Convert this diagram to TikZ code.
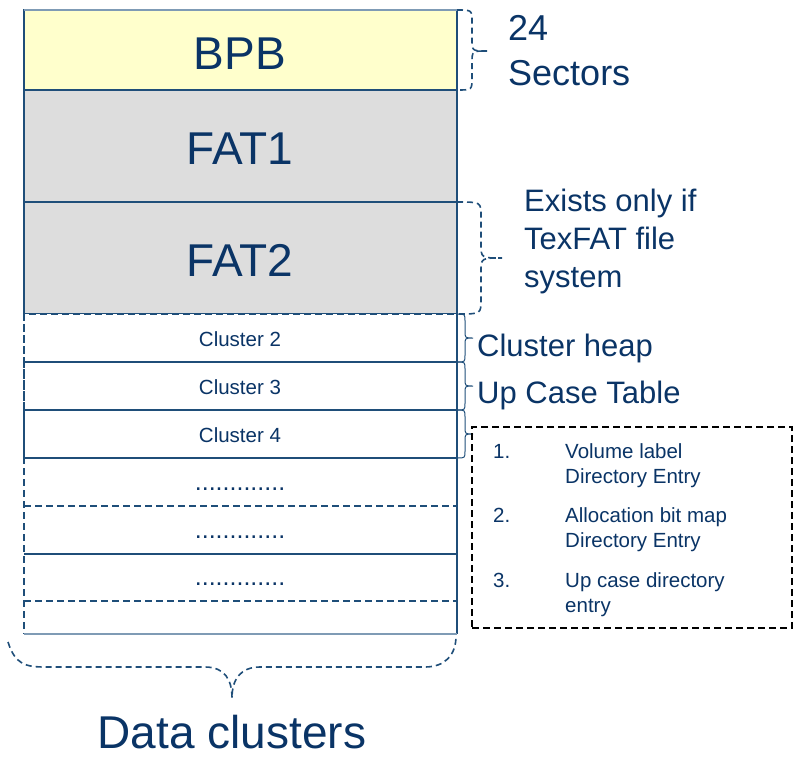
\documentclass[tikz,border=0pt]{standalone}
\usepackage{fontspec}
\setmainfont{Liberation Sans}
\definecolor{txt}{HTML}{0A3466}
\definecolor{ln}{HTML}{1F4E79}
\definecolor{lnlight}{HTML}{7F9BB5}
\definecolor{bpbfill}{HTML}{FFFFCC}
\definecolor{fatfill}{HTML}{DDDDDD}
\newcommand\sidebrace[8]{%
  \draw[#8] (#1,#4) .. controls (#2,#4) .. (#2,#4+#7) -- (#2,#5-#7)
    .. controls (#2,#5) .. (#3,#5) .. controls (#2,#5) .. (#2,#5+#7)
    -- (#2,#6-#7) .. controls (#2,#6) .. (#1,#6);}
\begin{document}
\begin{tikzpicture}[x=1pt,y=-1pt,
  box/.style={draw=ln, line width=1.5pt, minimum width=433pt, inner sep=0pt, outer sep=0pt, anchor=north west},
  cbox/.style={box, dashed, dash pattern=on 7pt off 4pt, line width=2.2pt, minimum height=48pt},
  bigtxt/.style={text=txt, font=\fontsize{46}{52}\selectfont, inner sep=0pt, anchor=base},
  midtxt/.style={text=txt, font=\fontsize{31}{38}\selectfont, inner sep=0pt},
  smalltxt/.style={text=txt, font=\fontsize{20.5}{25}\selectfont, inner sep=0pt, anchor=base},
  dottxt/.style={text=txt, font=\fontsize{25}{25}\selectfont, inner sep=0pt, anchor=base},
  listtxt/.style={text=txt, font=\fontsize{20.5}{25}\selectfont, inner sep=0pt, anchor=base west},
  dbrace/.style={draw=ln, line width=1.6pt, dash pattern=on 6pt off 4pt},
  sbrace/.style={draw=ln, line width=1pt}]
\useasboundingbox (0,0) rectangle (793,758);

% main blocks
\node[box, fill=bpbfill, minimum height=80pt] (bpb) at (24,10) {};
\node[box, fill=fatfill, minimum height=112pt] (fat1) at (24,90) {};
\node[box, fill=fatfill, minimum height=112pt] (fat2) at (24,202) {};
\draw[lnlight, line width=1.5pt] (bpb.north west) -- (bpb.north east);

% cluster heap area
\node[box, draw=none, fill=white, minimum height=320pt] (heap) at (24,314) {};
\draw[ln, line width=1.5pt] (heap.north east) -- (heap.south east);
\draw[ln, line width=2.2pt, dash pattern=on 7pt off 4pt] (heap.north west) -- (heap.south west);
\draw[lnlight, line width=1.5pt] (heap.south west) -- (heap.south east);

\node[cbox] (c2) at (24,314) {};
\node[cbox] (c3) at (24,362) {};
\node[cbox] (c4) at (24,410) {};
\node[cbox] (r1) at (24,458) {};
\coordinate (s1) at (24,554);
\coordinate (s2) at (457,554);
\draw[ln, line width=2.4pt] (s1) -- (s2);
\coordinate (d1) at (24,601);
\coordinate (d2) at (457,601);
\draw[ln, line width=2.2pt, dash pattern=on 7pt off 4pt] (d1) -- (d2);

% block labels
\node[bigtxt] (tbpb) at (240,69) {BPB};
\node[bigtxt] (tfat1) at (240,164) {FAT1};
\node[bigtxt] (tfat2) at (240,276) {FAT2};
\node[smalltxt] (tc2) at (240,346) {Cluster 2};
\node[smalltxt] (tc3) at (240,394) {Cluster 3};
\node[smalltxt] (tc4) at (240,442) {Cluster 4};
\node[dottxt] (dots1) at (240,490) {.............};
\node[dottxt] (dots2) at (240,538) {.............};
\node[dottxt] (dots3) at (240,585) {.............};

% braces
\sidebrace{457}{472}{487}{10}{51}{90}{12}{dbrace}
\sidebrace{457}{481}{502}{202}{258}{314}{14}{dbrace}
\sidebrace{457}{465}{473}{314}{338}{362}{7}{sbrace}
\sidebrace{457}{465}{473}{362}{386}{410}{7}{sbrace}
\sidebrace{457}{465}{473}{410}{434}{458}{7}{sbrace}
\draw[dbrace] (8,642) .. controls (15,664) and (25,667) .. (45,667) -- (205,667)
  .. controls (225,667) and (232,680) .. (232,698)
  .. controls (232,680) and (240,667) .. (260,667) -- (425,667)
  .. controls (445,667) and (456,655) .. (456,636);

% right labels
\node[text=txt, font=\fontsize{36}{45}\selectfont, inner sep=0pt, anchor=north west, align=left] (sect) at (508,15) {24\\Sectors};
\node[midtxt, anchor=north west, align=left] (texfat) at (524,189) {Exists only if\\TexFAT file\\system};
\node[midtxt, anchor=base west] (heaplbl) at (477,356) {Cluster heap};
\node[midtxt, anchor=base west] (uplbl) at (477,403) {Up Case Table};

% list box
\node[draw=black, line width=2pt, dash pattern=on 7pt off 4pt, minimum width=320pt, minimum height=201pt, inner sep=0pt, outer sep=0pt, anchor=north west] (lst) at (472,427) {};
\node[listtxt] (n1) at (493,458) {1.};
\node[listtxt] (l1a) at (565,458) {Volume label};
\node[listtxt] (l1b) at (565,483) {Directory Entry};
\node[listtxt] (n2) at (493,522) {2.};
\node[listtxt] (l2a) at (565,522) {Allocation bit map};
\node[listtxt] (l2b) at (565,547) {Directory Entry};
\node[listtxt] (n3) at (493,587) {3.};
\node[listtxt] (l3a) at (565,587) {Up case directory};
\node[listtxt] (l3b) at (565,612) {entry};

% bottom label
\node[bigtxt, text depth=0pt] (data) at (232,748) {Data clusters};
\end{tikzpicture}
\end{document}
